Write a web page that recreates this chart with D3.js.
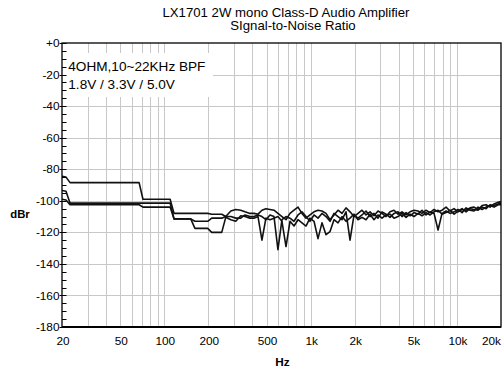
<!DOCTYPE html>
<html>
<head>
<meta charset="utf-8">
<script src="https://cdn.jsdelivr.net/npm/d3@7"></script>
<style>
    body { margin: 0; background: #fff; }
    text { font-family: "Liberation Sans", Arial, sans-serif; }
</style>
</head>
<body>
<div id="chart"></div>
<script>
// frequency points (Hz), shared by the three supply voltages
var freq = [20, 21.3, 22.7, 67.3, 71.5, 109.6, 116.6, 151.6, 162, 198, 211, 247, 263, 285, 308, 333, 356, 385,
    410, 437, 465, 495, 528, 562, 598, 637, 679, 723, 770, 820, 873, 930, 990, 1055, 1123, 1196, 1274, 1357,
    1445, 1539, 1639, 1745, 1859, 1980, 2108, 2245, 2391, 2547, 2712, 2888, 3076, 3276, 3489, 3716, 3957,
    4214, 4488, 4780, 5091, 5421, 5774, 6149, 6549, 6974, 7428, 7910, 8425, 8972, 9555, 10176, 10838,
    11542, 12292, 13091, 13942, 14848, 15813, 16841, 17936, 19101, 20000];

var snrA = [-84.5, -85, -88.5, -88.5, -99, -99, -108, -108, -108, -108, -108.5, -108.5, -110, -106.5, -105.5, -106, -107, -108,
    -108, -108.5, -106, -105, -105.5, -106, -108, -110, -112, -108, -106, -104, -108, -111, -109, -107, -106, -106.5, -108, -112,
    -109, -106, -108, -104.5, -107, -110, -108, -106, -109, -107, -109.5, -106.5, -108, -110, -107, -106, -108.5,
    -107, -109, -107, -106, -106.5, -108, -106, -107.5, -105.5, -107, -106, -104, -106.5, -105, -107, -105.5,
    -106, -104.5, -104, -105.5, -103, -102.5, -104, -102, -101, -100.5];

var snrB = [-93.5, -94, -101.5, -101.5, -101.5, -101.5, -111.5, -111.5, -113, -113, -111, -111, -110, -110, -111, -111, -109, -110,
    -110, -109, -110, -112, -109, -110, -131, -112, -110, -111, -113, -109, -107, -110, -113, -109, -111, -108, -110, -113,
    -108, -110, -112, -107, -125, -109, -111, -109, -106.5, -110, -108, -111, -107, -108.5, -110.5, -108, -107,
    -110, -107.5, -109.5, -107.5, -108.5, -106, -109, -107, -108, -118.5, -108, -106.5, -108, -107, -105.5, -107.5,
    -104.5, -106, -106.5, -104, -105.5, -104, -103, -104, -102.5, -102.5];

var snrC = [-99, -99.5, -102.5, -102.5, -104, -104, -111.5, -111.5, -117.5, -117.5, -120, -120, -110.5, -112, -113, -109.5, -110, -111,
    -111, -110, -125, -111, -112, -111, -110, -113, -129, -113, -116, -112, -114, -116, -111, -113, -124, -114, -121.5, -119.5,
    -112, -114, -110, -113, -111, -108.5, -112, -110.5, -112, -108.5, -112, -109, -111, -109, -108.5, -111, -110,
    -108, -110.5, -108.5, -110, -108, -109.5, -107.5, -109, -107, -106, -108.5, -107.5, -106, -108.5, -106.5, -105,
    -107, -105, -105.5, -106, -104, -105, -102.5, -103, -102, -101.5];

var xTicks = [20, 50, 100, 200, 500, 1000, 2000, 5000, 10000, 20000];
var xTickLabels = ["20", "50", "100", "200", "500", "1k", "2k", "5k", "10k", "20k"];
var xGrid = [30, 40, 50, 60, 70, 80, 90, 100, 200, 300, 400, 500, 600, 700, 800, 900,
    1000, 2000, 3000, 4000, 5000, 6000, 7000, 8000, 9000, 10000];
var yTicks = [0, -20, -40, -60, -80, -100, -120, -140, -160, -180];
var yTickLabels = ["+0", "-20", "-40", "-60", "-80", "-100", "-120", "-140", "-160", "-180"];

var titleLines = ["LX1701 2W mono Class-D Audio Amplifier", "SIgnal-to-Noise Ratio"];
var noteLines = ["4OHM,10~22KHz BPF", "1.8V / 3.3V / 5.0V"];

var margin = {top: 43, right: 1, bottom: 46, left: 62},
    width = 502 - margin.left - margin.right,
    height = 373 - margin.top - margin.bottom;

var x = d3.scaleLog()
    .domain([20, 20000])
    .range([0, width]);

var y = d3.scaleLinear()
    .domain([-180, 0])
    .range([height, 0]);

var root = d3.select("#chart").append("svg")
    .attr("width", 502)
    .attr("height", 373);

// title
root.append("text")
    .attr("x", 286)
    .attr("y", 16.5)
    .attr("text-anchor", "middle")
    .style("font-size", "13.2px")
    .text(titleLines[0]);
root.append("text")
    .attr("x", 293)
    .attr("y", 30)
    .attr("text-anchor", "middle")
    .style("font-size", "13.2px")
    .text(titleLines[1]);

var svg = root.append("g")
    .attr("transform", "translate(" + margin.left + "," + margin.top + ")");

svg.append("clipPath")
    .attr("id", "clip")
  .append("rect")
    .attr("width", width)
    .attr("height", height);

// grid
svg.append("g").selectAll("line")
    .data(xGrid)
  .enter().append("line")
    .attr("x1", function(d) { return Math.round(x(d)) + 0.5; })
    .attr("x2", function(d) { return Math.round(x(d)) + 0.5; })
    .attr("y1", 0)
    .attr("y2", height)
    .attr("stroke", "#c8c8c8");

svg.append("g").selectAll("line")
    .data(yTicks.slice(1, -1))
  .enter().append("line")
    .attr("x1", 0)
    .attr("x2", width)
    .attr("y1", function(d) { return Math.round(y(d)) + 0.5; })
    .attr("y2", function(d) { return Math.round(y(d)) + 0.5; })
    .attr("stroke", "#c8c8c8");

// note box covers the grid
svg.append("rect")
    .attr("x", 1)
    .attr("y", 10)
    .attr("width", 150)
    .attr("height", 44)
    .attr("fill", "#fff");

svg.selectAll("text.note")
    .data(noteLines)
  .enter().append("text")
    .attr("class", "note")
    .attr("x", 6.3)
    .attr("y", function(d, i) { return 28 + i * 18.3; })
    .style("font-size", "13.6px")
    .text(function(d) { return d; });

// traces
var line = d3.line()
    .x(function(d, i) { return x(freq[i]); })
    .y(function(d) { return y(d); });

svg.append("g")
    .attr("clip-path", "url(#clip)")
  .selectAll("path")
    .data([snrA, snrB, snrC])
  .enter().append("path")
    .attr("d", line)
    .attr("fill", "none")
    .attr("stroke", "#111")
    .attr("stroke-width", 1.6)
    .attr("stroke-linejoin", "round");

// frame
svg.append("rect")
    .attr("x", 0)
    .attr("y", 0)
    .attr("width", width)
    .attr("height", height)
    .attr("fill", "none")
    .attr("stroke", "#000")
    .attr("stroke-width", 1.3);

svg.append("line")
    .attr("x1", 0)
    .attr("x2", width)
    .attr("y1", height)
    .attr("y2", height)
    .attr("stroke", "#000")
    .attr("stroke-width", 2);

// y axis: labels, major and minor ticks
var yMinor = d3.range(-175, 0, 5).filter(function(d) { return d % 20 !== 0; });

svg.append("g").selectAll("line")
    .data(yMinor)
  .enter().append("line")
    .attr("x1", 0)
    .attr("x2", 4.5)
    .attr("y1", function(d) { return Math.round(y(d)) + 0.5; })
    .attr("y2", function(d) { return Math.round(y(d)) + 0.5; })
    .attr("stroke", "#000");

svg.append("g").selectAll("line")
    .data(yTicks)
  .enter().append("line")
    .attr("x1", -2.5)
    .attr("x2", 4.5)
    .attr("y1", function(d) { return Math.round(y(d)) + 0.5; })
    .attr("y2", function(d) { return Math.round(y(d)) + 0.5; })
    .attr("stroke", "#000");

svg.append("g").selectAll("text")
    .data(yTicks)
  .enter().append("text")
    .attr("x", -2.5)
    .attr("y", function(d) { return y(d); })
    .attr("dy", "0.35em")
    .attr("text-anchor", "end")
    .style("font-size", "11.8px")
    .text(function(d, i) { return yTickLabels[i]; });

// x axis labels
svg.append("g").selectAll("text")
    .data(xTicks)
  .enter().append("text")
    .attr("x", function(d) { return d === 20000 ? width : x(d) + 1; })
    .attr("y", height + 17.5)
    .attr("text-anchor", function(d) { return d === 20000 ? "end" : "middle"; })
    .style("font-size", "11.8px")
    .text(function(d, i) { return xTickLabels[i]; });

// axis titles
root.append("text")
    .attr("x", 20)
    .attr("y", 217.5)
    .attr("text-anchor", "middle")
    .style("font-size", "11.3px")
    .style("font-weight", "bold")
    .text("dBr");

root.append("text")
    .attr("x", 282.5)
    .attr("y", 366)
    .attr("text-anchor", "middle")
    .style("font-size", "11.8px")
    .style("font-weight", "bold")
    .text("Hz");
</script>
</body>
</html>
